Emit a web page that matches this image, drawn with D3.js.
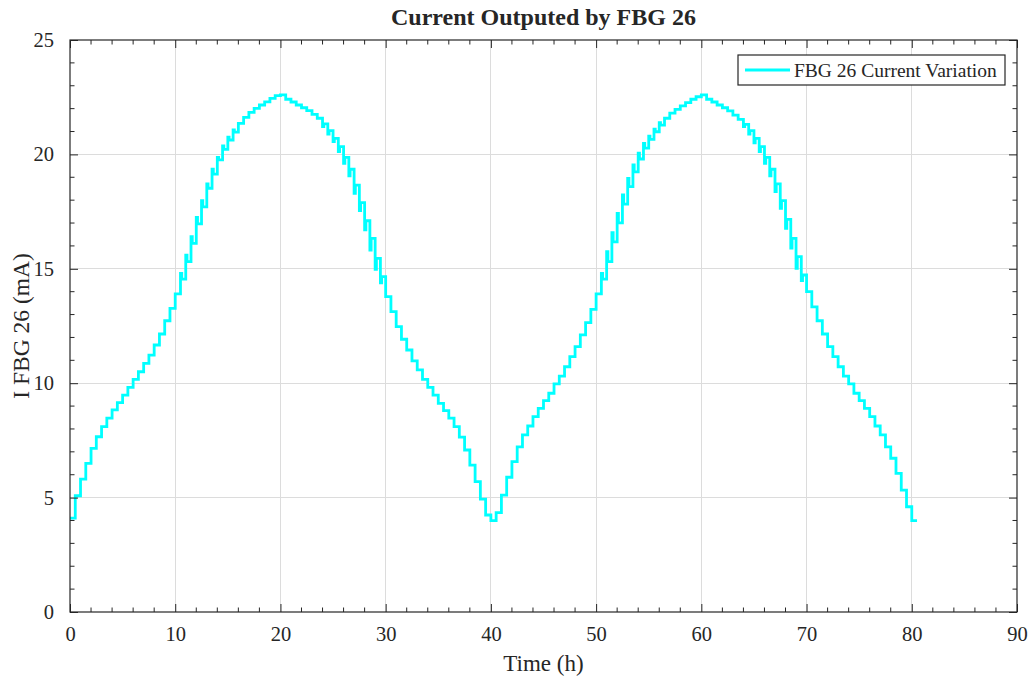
<!DOCTYPE html>
<html>
<head>
<meta charset="utf-8">
<script src="https://cdn.jsdelivr.net/npm/d3@7/dist/d3.min.js"></script>
<style>
  html, body { margin: 0; padding: 0; background: #ffffff; }
  svg { display: block; }
  text { font-family: "Liberation Serif", "Times New Roman", serif; fill: #262626; }
</style>
</head>
<body>
<div id="chart"></div>
<script>
// ---------------- data ----------------
const chartTitle = "Current Outputed by FBG 26";
const xLabel = "Time (h)";
const yLabel = "I FBG 26 (mA)";
const seriesName = "FBG 26 Current Variation";

const sampleInterval = 0.5;   // hours between samples
const endTime = 80.5;         // the last level is held until this time

// current level held from each sample time (t = 0, 0.5, 1, ... 80 h)
const currentLevels = [
  // 0 - 19.5 h (rising)
  4.1, 5.08, 5.81, 6.5, 7.15, 7.66, 8.1, 8.47, 8.83, 9.15,
  9.48, 9.82, 10.17, 10.5, 10.87, 11.23, 11.67, 12.15, 12.73, 13.27,
  13.9, 14.55, 15.31, 16.11, 16.96, 17.71, 18.52, 19.14, 19.76, 20.22,
  20.63, 20.97, 21.36, 21.62, 21.84, 22.01, 22.16, 22.3, 22.45, 22.57,
  // 20 - 39.5 h (falling)
  22.6, 22.41, 22.29, 22.16, 22.04, 21.91, 21.75, 21.58, 21.33, 21.04,
  20.7, 20.34, 19.87, 19.35, 18.66, 17.89, 17.1, 16.33, 15.46, 14.66,
  13.78, 13.13, 12.47, 11.92, 11.45, 10.98, 10.58, 10.17, 9.82, 9.48,
  9.12, 8.8, 8.47, 8.1, 7.64, 7.08, 6.42, 5.7, 4.93, 4.24,
  // 40 - 59.5 h (rising)
  3.99, 4.34, 5.11, 5.89, 6.57, 7.22, 7.74, 8.13, 8.54, 8.9,
  9.24, 9.56, 9.97, 10.31, 10.72, 11.16, 11.6, 12.11, 12.65, 13.23,
  13.9, 14.55, 15.31, 16.18, 17.01, 17.83, 18.59, 19.24, 19.8, 20.27,
  20.66, 20.99, 21.28, 21.58, 21.8, 21.97, 22.12, 22.26, 22.41, 22.52,
  // 60 - 79.5 h (falling)
  22.6, 22.41, 22.29, 22.16, 22.04, 21.9, 21.72, 21.53, 21.31, 21.04,
  20.7, 20.34, 19.87, 19.35, 18.71, 17.98, 17.16, 16.33, 15.53, 14.73,
  14.0, 13.34, 12.73, 12.15, 11.6, 11.16, 10.72, 10.31, 9.97, 9.56,
  9.24, 8.9, 8.54, 8.13, 7.74, 7.22, 6.72, 6.06, 5.33, 4.6,
  // 80 h
  3.99
];

// short over/undershoot transients at the start of some steps
const transientTimes = [
  10.5, 11, 11.5, 12, 12.5, 13, 13.5, 14, 14.5, 15, 15.5,
  24, 24.5, 25, 25.5, 26, 26.5, 27, 27.5, 28, 28.5, 29, 29.5,
  50.5, 51, 51.5, 52, 52.5, 53, 53.5, 54, 54.5, 55, 55.5, 56,
  64, 64.5, 65, 65.5, 66, 66.5, 67, 67.5, 68, 68.5, 69, 69.5
];
const transientValues = [
  14.8, 15.6, 16.4, 17.25, 17.98, 18.71, 19.35, 19.87, 20.37, 20.75, 21.07,
  21.21, 20.89, 20.56, 20.12, 19.61, 19.06, 18.3, 17.54, 16.7, 15.82, 14.98, 14.39,
  14.8, 15.75, 16.58, 17.42, 18.23, 18.95, 19.54, 20.05, 20.48, 20.8, 21.1, 21.39,
  21.21, 20.89, 20.51, 20.12, 19.61, 19.06, 18.37, 17.64, 16.77, 15.9, 15.02, 14.48
];

const xTicks = [0, 10, 20, 30, 40, 50, 60, 70, 80, 90];
const yTicks = [0, 5, 10, 15, 20, 25];
const xMinorTicks = d3.range(0, 91, 2);
const yMinorTicks = d3.range(0, 26, 1);

// ---------------- layout ----------------
const W = 1030, H = 679;
const margin = { left: 70, right: 13, top: 40, bottom: 67 };
const pw = W - margin.left - margin.right;
const ph = H - margin.top - margin.bottom;
const ink = "#262626";
const lineColor = "#00ffff";

const svg = d3.select("#chart").append("svg").attr("width", W).attr("height", H);
const g = svg.append("g").attr("transform", `translate(${margin.left},${margin.top})`);

const x = d3.scaleLinear().domain([0, 90]).range([0, pw]);
const y = d3.scaleLinear().domain([0, 25]).range([ph, 0]);

// grid
g.append("g").selectAll("line").data(xTicks.slice(1, -1)).join("line")
  .attr("x1", d => x(d)).attr("x2", d => x(d)).attr("y1", 0).attr("y2", ph)
  .attr("stroke", "#dcdcdc").attr("stroke-width", 1).attr("shape-rendering", "crispEdges");
g.append("g").selectAll("line").data(yTicks.slice(1, -1)).join("line")
  .attr("y1", d => y(d)).attr("y2", d => y(d)).attr("x1", 0).attr("x2", pw)
  .attr("stroke", "#dcdcdc").attr("stroke-width", 1).attr("shape-rendering", "crispEdges");

// series points
const transientMap = new Map(transientTimes.map((t, i) => [t, transientValues[i]]));
const transientWidth = 0.12;
const pts = [];
currentLevels.forEach((v, i) => {
  const t = i * sampleInterval;
  if (transientMap.has(t)) {
    pts.push([t, transientMap.get(t)]);
    pts.push([t + transientWidth, v]);
  } else {
    pts.push([t, v]);
  }
});
pts.push([endTime, currentLevels[currentLevels.length - 1]]);

const line = d3.line().x(d => x(d[0])).y(d => y(d[1])).curve(d3.curveStepAfter);
g.append("path").datum(pts)
  .attr("d", line)
  .attr("fill", "none")
  .attr("stroke", lineColor)
  .attr("stroke-width", 2.8)
  .attr("stroke-linejoin", "miter");

// axes (MATLAB style: inward ticks on all four sides, box)
const major = 8, minor = 4.5;
const axB = d3.axisBottom(x).tickValues(xTicks).tickSize(-major).tickPadding(major + 6).tickFormat(d3.format("d"));
const axL = d3.axisLeft(y).tickValues(yTicks).tickSize(-major).tickPadding(major + 8).tickFormat(d3.format("d"));
const axT = d3.axisTop(x).tickValues(xTicks).tickSize(-major).tickFormat("");
const axR = d3.axisRight(y).tickValues(yTicks).tickSize(-major).tickFormat("");

function styleAxis(sel) {
  sel.select(".domain").remove();
  sel.selectAll(".tick line").attr("stroke", ink).attr("stroke-width", 1);
  sel.selectAll(".tick text").attr("fill", ink).style("font-family", '"Liberation Serif", serif').style("font-size", "20.5px");
}
g.append("g").attr("transform", `translate(0,${ph})`).call(axB).call(styleAxis);
g.append("g").call(axL).call(styleAxis);
g.append("g").call(axT).call(styleAxis);
g.append("g").attr("transform", `translate(${pw},0)`).call(axR).call(styleAxis);

// minor ticks
const mx = xMinorTicks.filter(d => !xTicks.includes(d));
const my = yMinorTicks.filter(d => !yTicks.includes(d));
const minorG = g.append("g").attr("stroke", ink).attr("stroke-width", 1);
mx.forEach(d => {
  minorG.append("line").attr("x1", x(d)).attr("x2", x(d)).attr("y1", ph).attr("y2", ph - minor);
  minorG.append("line").attr("x1", x(d)).attr("x2", x(d)).attr("y1", 0).attr("y2", minor);
});
my.forEach(d => {
  minorG.append("line").attr("y1", y(d)).attr("y2", y(d)).attr("x1", 0).attr("x2", minor);
  minorG.append("line").attr("y1", y(d)).attr("y2", y(d)).attr("x1", pw).attr("x2", pw - minor);
});

// box
g.append("rect").attr("x", 0).attr("y", 0).attr("width", pw).attr("height", ph)
  .attr("fill", "none").attr("stroke", ink).attr("stroke-width", 1.2);

// title & labels
svg.append("text").attr("x", margin.left + pw / 2).attr("y", 25)
  .attr("text-anchor", "middle").style("font-size", "24px").style("font-weight", "bold")
  .text(chartTitle);
svg.append("text").attr("x", margin.left + pw / 2).attr("y", 671)
  .attr("text-anchor", "middle").style("font-size", "23px")
  .text(xLabel);
svg.append("text").attr("transform", `translate(29,${margin.top + ph / 2}) rotate(-90)`)
  .attr("text-anchor", "middle").style("font-size", "23.5px")
  .text(yLabel);

// legend
const lg = svg.append("g").attr("transform", "translate(738,55)");
lg.append("rect").attr("x", 0).attr("y", 0).attr("width", 267).attr("height", 30)
  .attr("fill", "#ffffff").attr("stroke", ink).attr("stroke-width", 1.2);
lg.append("line").attr("x1", 7).attr("x2", 52).attr("y1", 15).attr("y2", 15)
  .attr("stroke", lineColor).attr("stroke-width", 2.8);
lg.append("text").attr("x", 56).attr("y", 21.5).style("font-size", "19.5px").text(seriesName);
</script>
</body>
</html>
